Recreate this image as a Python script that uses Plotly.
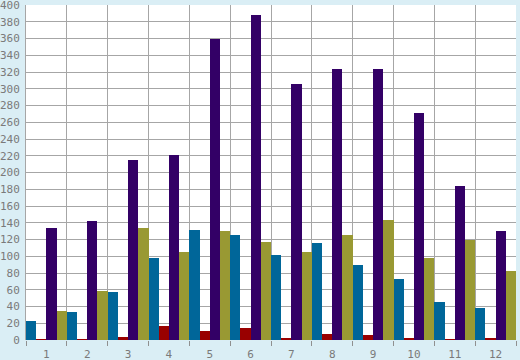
import plotly.graph_objects as go

categories = [1, 2, 3, 4, 5, 6, 7, 8, 9, 10, 11, 12]
tick_labels = [str(c) for c in categories]
series_blue = [23, 33, 57, 98, 131, 125, 102, 116, 90, 73, 45, 38]
series_red = [1, 1, 3, 17, 11, 14, 2, 7, 6, 2, 1, 2]
series_purple = [134, 142, 215, 221, 359, 388, 306, 323, 324, 271, 184, 130]
series_olive = [35, 58, 134, 105, 130, 117, 105, 125, 143, 98, 120, 82]
y_ticks = list(range(0, 401, 20))

colors = ["#006699", "#990000", "#330066", "#999933"]
names = ["Series 1", "Series 2", "Series 3", "Series 4"]
data = [series_blue, series_red, series_purple, series_olive]

fig = go.Figure()
for n, c, d in zip(names, colors, data):
    fig.add_trace(go.Bar(x=categories, y=d, name=n, marker=dict(color=c, line=dict(width=0))))

font = dict(family="DejaVu Sans Mono", size=11, color="#7a7a7a")
fig.update_layout(
    width=520, height=360,
    margin=dict(l=26, r=4, t=5, b=20, autoexpand=False),
    paper_bgcolor="#daeef5",
    plot_bgcolor="#ffffff",
    barmode="group", bargap=0, bargroupgap=0,
    showlegend=False,
    font=font,
    xaxis=dict(
        type="linear", range=[0.5, 12.5], automargin=False,
        tickmode="array", tickvals=categories, ticktext=tick_labels,
        showgrid=False, ticks="outside", ticklen=4, tickcolor="rgba(0,0,0,0)",
        zeroline=False, tickfont=font, ticklabeloverflow="allow",
        showline=False,
        minor=dict(tick0=0.5, dtick=1, showgrid=True, gridcolor="#a6a6a6", gridwidth=1,
                   ticks="outside", ticklen=5, tickcolor="#909090"),
    ),
    yaxis=dict(
        range=[0, 400], tickmode="array", tickvals=y_ticks, automargin=False,
        showgrid=True, gridcolor="#a6a6a6", gridwidth=1,
        zeroline=False, ticks="", tickfont=font, ticklabelstandoff=3,
        ticklabeloverflow="allow",
        showline=True, linecolor="#a6a6a6", linewidth=1,
    ),
)
fig.write_html(
    "out.html",
    config={"displayModeBar": False},
    post_script="document.body.style.margin='0';document.body.style.background='#daeef5';",
)
